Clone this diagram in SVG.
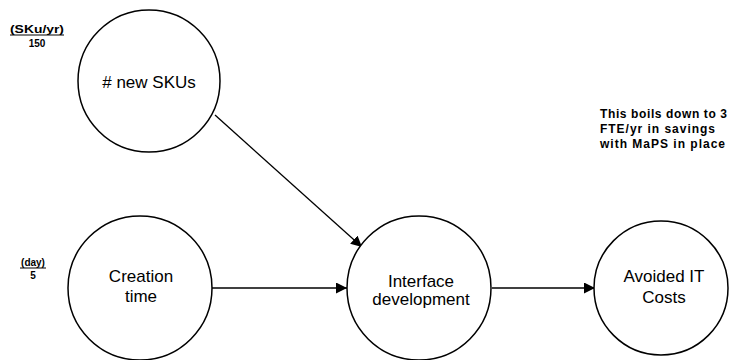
<svg xmlns="http://www.w3.org/2000/svg" width="730" height="360" viewBox="0 0 730 360">
<defs>
<style>
.node{fill:#fff;stroke:#000;stroke-width:1.5}
.lbl{font-family:"Liberation Sans",Arial,sans-serif;font-size:17px;fill:#000;text-anchor:middle}
.sm{font-family:"Liberation Sans",Arial,sans-serif;font-size:10px;font-weight:bold;fill:#000}
.note{font-family:"Liberation Sans",Arial,sans-serif;font-size:12px;font-weight:bold;fill:#000}
.edge{stroke:#000;stroke-width:1.3;fill:none;marker-end:url(#ah)}
</style>
<marker id="ah" viewBox="0 0 10 10" refX="10" refY="5" markerWidth="11" markerHeight="11" markerUnits="userSpaceOnUse" orient="auto">
<path d="M0,0 L10,5 L0,10 z" fill="#000"/>
</marker>
</defs>
<rect width="730" height="360" fill="#fff"/>
<g id="connectors">
<line class="edge" x1="215" y1="115" x2="362" y2="247"/>
<line class="edge" x1="212" y1="288" x2="347" y2="288"/>
<line class="edge" x1="492" y1="288" x2="595" y2="288"/>
</g>
<g id="n_skus">
<circle class="node" cx="149" cy="81" r="71"/>
<text class="lbl" x="149" y="88"># new SKUs</text>
</g>
<g id="n_creation">
<circle class="node" cx="140" cy="288" r="72"/>
<text class="lbl" x="141" y="282">Creation</text>
<text class="lbl" x="141" y="302">time</text>
</g>
<g id="n_interface">
<circle class="node" cx="419" cy="288" r="72"/>
<text class="lbl" x="421" y="287">Interface</text>
<text class="lbl" x="421" y="305">development</text>
</g>
<g id="n_avoided">
<circle class="node" cx="661" cy="288" r="67"/>
<text class="lbl" x="664" y="282">Avoided IT</text>
<text class="lbl" x="664" y="303">Costs</text>
</g>
<g id="unit_skus">
<text class="sm" x="10" y="33" textLength="54" lengthAdjust="spacingAndGlyphs">(SKu/yr)</text>
<line x1="10" y1="35" x2="64" y2="35" stroke="#000" stroke-width="1"/>
<text class="sm" x="37" y="47" text-anchor="middle">150</text>
</g>
<g id="unit_day">
<text class="sm" x="33" y="266" text-anchor="middle">(day)</text>
<line x1="20" y1="268" x2="46" y2="268" stroke="#000" stroke-width="1"/>
<text class="sm" x="33" y="279" text-anchor="middle">5</text>
</g>
<g id="note">
<text class="note" x="600" y="118" textLength="127" lengthAdjust="spacing">This boils down to 3</text>
<text class="note" x="600" y="133" textLength="115" lengthAdjust="spacing">FTE/yr in savings</text>
<text class="note" x="600" y="148" textLength="125" lengthAdjust="spacing">with MaPS in place</text>
</g>
</svg>
